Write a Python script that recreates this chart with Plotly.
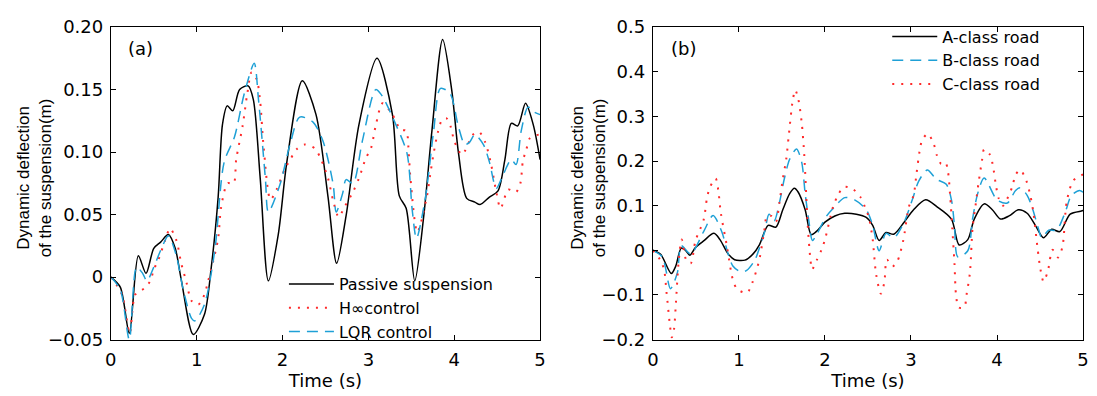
import plotly.graph_objects as go

# ---------------- Panel (a) data ----------------
t_passive = [0, 0.11, 0.215, 0.32, 0.41, 0.5, 0.58, 0.67, 0.75, 0.82, 0.96, 1.09, 1.17, 1.25, 1.30,
             1.355, 1.42, 1.50, 1.60, 1.66, 1.74, 1.835, 1.95, 2.05, 2.23, 2.39, 2.53, 2.63, 2.74,
             2.89, 3.10, 3.28, 3.36, 3.44, 3.54, 3.645, 3.74, 3.865, 3.97, 4.05, 4.145, 4.24, 4.30,
             4.41, 4.51, 4.59, 4.665, 4.74, 4.83, 4.92, 5.0]
v_passive = [0, -0.008, -0.045, 0.017, 0.003, 0.023, 0.028, 0.034, 0.023, -0.002, -0.046, -0.030,
             0.008, 0.064, 0.122, 0.137, 0.133, 0.150, 0.153, 0.142, 0.079, -0.003, 0.034, 0.092,
             0.157, 0.130, 0.064, 0.011, 0.049, 0.122, 0.175, 0.130, 0.065, 0.055, -0.003, 0.049,
             0.117, 0.190, 0.150, 0.099, 0.063, 0.060, 0.058, 0.064, 0.069, 0.094, 0.123, 0.121,
             0.139, 0.122, 0.094]

t_hinf = [0, 0.13, 0.22, 0.285, 0.39, 0.46, 0.5, 0.555, 0.63, 0.69, 0.765, 0.82, 0.88, 0.94, 1.02,
          1.09, 1.13, 1.19, 1.25, 1.285, 1.36, 1.43, 1.46, 1.535, 1.59, 1.64, 1.70, 1.74, 1.78,
          1.86, 1.93, 2.03, 2.09, 2.16, 2.26, 2.375, 2.45, 2.53, 2.59, 2.655, 2.72, 2.82, 2.895,
          2.97, 3.03, 3.085, 3.165, 3.28, 3.375, 3.44, 3.47, 3.49, 3.57, 3.68, 3.72, 3.76, 3.81,
          3.86, 3.91, 3.96, 4.0, 4.09, 4.22, 4.29, 4.36, 4.43, 4.49, 4.54, 4.63, 4.72, 4.77, 4.80,
          4.84, 4.88, 4.985, 5.0]
v_hinf = [0, -0.014, -0.045, -0.014, -0.009, -0.003, 0.006, 0.014, 0.029, 0.039, 0.029, 0.011,
          -0.004, -0.019, -0.022, -0.014, -0.004, 0.012, 0.031, 0.056, 0.075, 0.075, 0.094, 0.121,
          0.147, 0.164, 0.158, 0.140, 0.104, 0.062, 0.070, 0.087, 0.094, 0.102, 0.106, 0.103,
          0.094, 0.079, 0.061, 0.048, 0.056, 0.068, 0.080, 0.095, 0.103, 0.121, 0.139, 0.130,
          0.118, 0.117, 0.099, 0.079, 0.036, 0.064, 0.082, 0.099, 0.116, 0.126, 0.127, 0.120,
          0.109, 0.098, 0.114, 0.116, 0.108, 0.090, 0.068, 0.055, 0.070, 0.068, 0.075, 0.093,
          0.102, 0.111, 0.114, 0.114]

t_lqr = [0, 0.11, 0.215, 0.30, 0.37, 0.42, 0.50, 0.59, 0.67, 0.76, 0.84, 0.94, 0.98, 1.09, 1.21,
         1.32, 1.44, 1.555, 1.67, 1.72, 1.80, 1.835, 1.97, 2.09, 2.20, 2.355, 2.47, 2.59, 2.625,
         2.70, 2.74, 2.82, 2.93, 3.085, 3.15, 3.32, 3.45, 3.51, 3.56, 3.665, 3.76, 3.84, 3.95,
         4.05, 4.125, 4.18, 4.24, 4.34, 4.41, 4.49, 4.57, 4.665, 4.72, 4.78, 4.86, 4.93, 5.0]
v_lqr = [0, -0.010, -0.050, 0.008, 0.003, -0.003, 0.008, 0.023, 0.033, 0.018, -0.009, -0.033,
         -0.035, -0.022, 0.021, 0.092, 0.112, 0.147, 0.171, 0.142, 0.079, 0.052, 0.074, 0.107,
         0.128, 0.124, 0.109, 0.074, 0.052, 0.067, 0.078, 0.075, 0.109, 0.150, 0.146, 0.122,
         0.099, 0.054, 0.031, 0.064, 0.117, 0.151, 0.147, 0.120, 0.106, 0.108, 0.114, 0.106,
         0.092, 0.071, 0.082, 0.094, 0.090, 0.117, 0.136, 0.132, 0.130]

# ---------------- Panel (b) data ----------------
t_a = [0, 0.09, 0.215, 0.265, 0.33, 0.38, 0.43, 0.495, 0.59, 0.71, 0.78, 0.875, 0.95, 1.07, 1.165,
       1.24, 1.34, 1.43, 1.51, 1.59, 1.645, 1.69, 1.77, 1.84, 1.905, 2.0, 2.115, 2.23, 2.365, 2.48,
       2.555, 2.63, 2.71, 2.80, 2.92, 3.03, 3.17, 3.30, 3.47, 3.56, 3.66, 3.735, 3.85, 3.945, 4.04,
       4.14, 4.25, 4.35, 4.445, 4.54, 4.635, 4.73, 4.85, 4.98, 5.0]
v_a = [0, -0.009, -0.052, -0.036, 0.005, 0.0, -0.011, 0.006, 0.021, 0.038, 0.024, -0.008, -0.021,
       -0.022, -0.008, 0.013, 0.056, 0.052, 0.091, 0.127, 0.139, 0.130, 0.091, 0.035, 0.043, 0.063,
       0.077, 0.083, 0.081, 0.074, 0.056, 0.022, 0.040, 0.036, 0.063, 0.091, 0.113, 0.098, 0.070,
       0.012, 0.024, 0.070, 0.104, 0.091, 0.070, 0.077, 0.091, 0.083, 0.056, 0.028, 0.047, 0.042,
       0.081, 0.088, 0.089]

t_b = [0, 0.11, 0.205, 0.285, 0.33, 0.44, 0.59, 0.70, 0.80, 0.875, 0.93, 1.02, 1.09, 1.185, 1.24,
       1.30, 1.35, 1.41, 1.47, 1.53, 1.59, 1.67, 1.73, 1.77, 1.81, 1.855, 1.905, 2.02, 2.115, 2.23,
       2.345, 2.48, 2.555, 2.63, 2.71, 2.80, 2.92, 3.015, 3.09, 3.19, 3.295, 3.41, 3.47, 3.505,
       3.545, 3.66, 3.715, 3.775, 3.85, 4.0, 4.12, 4.215, 4.27, 4.35, 4.41, 4.48, 4.52, 4.60, 4.69,
       4.79, 4.865, 4.96, 5.0]
v_b = [0, -0.015, -0.086, -0.050, 0.010, -0.008, 0.042, 0.078, 0.042, -0.008, -0.035, -0.048,
       -0.045, -0.022, 0.006, 0.042, 0.081, 0.066, 0.106, 0.162, 0.204, 0.227, 0.197, 0.127,
       0.070, 0.022, 0.036, 0.077, 0.098, 0.118, 0.113, 0.091, 0.056, -0.001, 0.038, 0.028,
       0.063, 0.113, 0.155, 0.180, 0.159, 0.148, 0.113, 0.056, -0.015, -0.001, 0.070, 0.127,
       0.162, 0.113, 0.106, 0.134, 0.140, 0.123, 0.095, 0.049, 0.028, 0.045, 0.045, 0.084,
       0.123, 0.134, 0.130]

t_c = [0, 0.085, 0.13, 0.16, 0.2, 0.22, 0.245, 0.265, 0.30, 0.335, 0.39, 0.44, 0.495, 0.59, 0.63,
       0.665, 0.73, 0.76, 0.79, 0.86, 0.93, 0.98, 1.095, 1.155, 1.235, 1.30, 1.325, 1.375, 1.43,
       1.47, 1.51, 1.55, 1.58, 1.625, 1.655, 1.69, 1.73, 1.76, 1.80, 1.83, 1.85, 1.905, 1.96, 2.0,
       2.095, 2.145, 2.22, 2.325, 2.41, 2.465, 2.51, 2.555, 2.595, 2.65, 2.69, 2.72, 2.785, 2.84,
       2.91, 2.975, 3.03, 3.065, 3.10, 3.13, 3.195, 3.265, 3.30, 3.35, 3.40, 3.43, 3.455, 3.48,
       3.505, 3.525, 3.555, 3.62, 3.645, 3.685, 3.715, 3.75, 3.785, 3.825, 3.85, 3.915, 3.95,
       3.99, 4.02, 4.07, 4.13, 4.18, 4.215, 4.27, 4.34, 4.39, 4.425, 4.47, 4.505, 4.54, 4.59,
       4.645, 4.71, 4.76, 4.81, 4.885, 4.98, 5.0]
v_c = [0, -0.021, -0.043, -0.096, -0.170, -0.195, -0.178, -0.128, -0.025, 0.024, -0.023, -0.029,
       0.021, 0.068, 0.118, 0.142, 0.161, 0.135, 0.084, 0.010, -0.066, -0.087, -0.095, -0.073,
       -0.023, 0.050, 0.077, 0.077, 0.064, 0.106, 0.159, 0.204, 0.258, 0.335, 0.359, 0.339,
       0.286, 0.212, 0.056, -0.018, -0.043, -0.022, 0.001, 0.024, 0.098, 0.121, 0.142, 0.137,
       0.120, 0.097, 0.074, 0.024, -0.054, -0.097, -0.072, -0.021, -0.036, -0.025, 0.022, 0.097,
       0.123, 0.173, 0.222, 0.247, 0.261, 0.238, 0.213, 0.194, 0.197, 0.176, 0.123, 0.049,
       -0.028, -0.103, -0.128, -0.127, -0.100, -0.050, 0.049, 0.100, 0.151, 0.201, 0.226,
       0.215, 0.192, 0.142, 0.116, 0.100, 0.120, 0.144, 0.169, 0.180, 0.156, 0.120, 0.081,
       0.006, -0.043, -0.070, -0.047, 0.001, -0.016, 0.008, 0.109, 0.156, 0.168, 0.170]

# ---------------- tick labels ----------------
x_ticks = [0, 1, 2, 3, 4, 5]
x_ticktext = ["0", "1", "2", "3", "4", "5"]
ya_ticks = [-0.05, 0, 0.05, 0.10, 0.15, 0.20]
ya_ticktext = ["\u22120.05", "0", "0.05", "0.10", "0.15", "0.20"]
yb_ticks = [-0.2, -0.1, 0, 0.1, 0.2, 0.3, 0.4, 0.5]
yb_ticktext = ["\u22120.2", "\u22120.1", "0", "0.1", "0.2", "0.3", "0.4", "0.5"]

BLACK = "#000000"
BLUE = "#1ea0d6"
RED = "#ff2a2a"
DOT = "2px,7px"
DASH = "11px,7px"
FONT = "DejaVu Sans"
W, H = 1097, 396

fig = go.Figure()

# panel (a)
fig.add_trace(go.Scatter(x=t_passive, y=v_passive, name="Passive suspension", mode="lines",
                         line=dict(color=BLACK, width=1.5, shape="spline", smoothing=0.8),
                         xaxis="x", yaxis="y", legend="legend"))
fig.add_trace(go.Scatter(x=t_hinf, y=v_hinf, name="H\u221econtrol", mode="lines",
                         line=dict(color=RED, width=2, dash=DOT, shape="spline", smoothing=0.8),
                         xaxis="x", yaxis="y", legend="legend"))
fig.add_trace(go.Scatter(x=t_lqr, y=v_lqr, name="LQR control", mode="lines",
                         line=dict(color=BLUE, width=1.5, dash=DASH, shape="spline", smoothing=0.8),
                         xaxis="x", yaxis="y", legend="legend"))

# panel (b)
fig.add_trace(go.Scatter(x=t_a, y=v_a, name="A-class road", mode="lines",
                         line=dict(color=BLACK, width=1.5, shape="spline", smoothing=0.8),
                         xaxis="x2", yaxis="y2", legend="legend2"))
fig.add_trace(go.Scatter(x=t_b, y=v_b, name="B-class road", mode="lines",
                         line=dict(color=BLUE, width=1.5, dash=DASH, shape="spline", smoothing=0.8),
                         xaxis="x2", yaxis="y2", legend="legend2"))
fig.add_trace(go.Scatter(x=t_c, y=v_c, name="C-class road", mode="lines",
                         line=dict(color=RED, width=2, dash=DOT, shape="spline", smoothing=0.8),
                         xaxis="x2", yaxis="y2", legend="legend2"))

ydom = [1 - 347 / H, 1 - 17 / H]
axis_common = dict(showline=True, linecolor="black", linewidth=1, mirror="allticks",
                   ticks="inside", ticklen=5, tickcolor="black", showgrid=False,
                   zeroline=False, tickfont=dict(family=FONT, size=18, color="black"))
xtitle = dict(text="Time (s)", standoff=4, font=dict(family=FONT, size=18))

fig.update_layout(
    width=W, height=H,
    margin=dict(l=0, r=0, t=0, b=0),
    paper_bgcolor="white", plot_bgcolor="white",
    font=dict(family=FONT, size=17, color="black"),
    xaxis=dict(domain=[106 / W, 540 / W], range=[0, 5], tickvals=x_ticks, ticktext=x_ticktext,
               anchor="y", title=xtitle, ticklabelstandoff=4, **axis_common),
    yaxis=dict(domain=ydom, range=[-0.05, 0.2], tickvals=ya_ticks, ticktext=ya_ticktext,
               anchor="x", ticklabelstandoff=3, **axis_common),
    xaxis2=dict(domain=[654 / W, 1089 / W], range=[0, 5], tickvals=x_ticks, ticktext=x_ticktext,
                anchor="y2", title=xtitle, ticklabelstandoff=4, **axis_common),
    yaxis2=dict(domain=ydom, range=[-0.2, 0.5], tickvals=yb_ticks, ticktext=yb_ticktext,
                anchor="x2", ticklabelstandoff=3, **axis_common),
    legend=dict(x=281 / W, y=1 - 357 / H, xanchor="left", yanchor="bottom", itemwidth=45,
                bgcolor="rgba(0,0,0,0)", font=dict(family=FONT, size=16), tracegroupgap=0),
    legend2=dict(x=891 / W, y=1 - 9 / H, xanchor="left", yanchor="top", itemwidth=45,
                 bgcolor="rgba(0,0,0,0)", font=dict(family=FONT, size=16), tracegroupgap=0),
    annotations=[
        dict(text="(a)", x=136 / W, y=1 - 40 / H, xref="paper", yref="paper", showarrow=False,
             xanchor="center", yanchor="middle", font=dict(family=FONT, size=18)),
        dict(text="(b)", x=685 / W, y=1 - 40 / H, xref="paper", yref="paper", showarrow=False,
             xanchor="center", yanchor="middle", font=dict(family=FONT, size=18)),
        dict(text="Dynamic deflection<br>of the suspension(m)", x=29 / W, y=1 - 176 / H,
             xref="paper", yref="paper", showarrow=False, textangle=-90,
             xanchor="center", yanchor="middle",
             font=dict(family="Liberation Sans", size=17)),
        dict(text="Dynamic deflection<br>of the suspension(m)", x=589 / W, y=1 - 176 / H,
             xref="paper", yref="paper", showarrow=False, textangle=-90,
             xanchor="center", yanchor="middle",
             font=dict(family="Liberation Sans", size=17)),
    ],
)

fig.write_html("out.html")
